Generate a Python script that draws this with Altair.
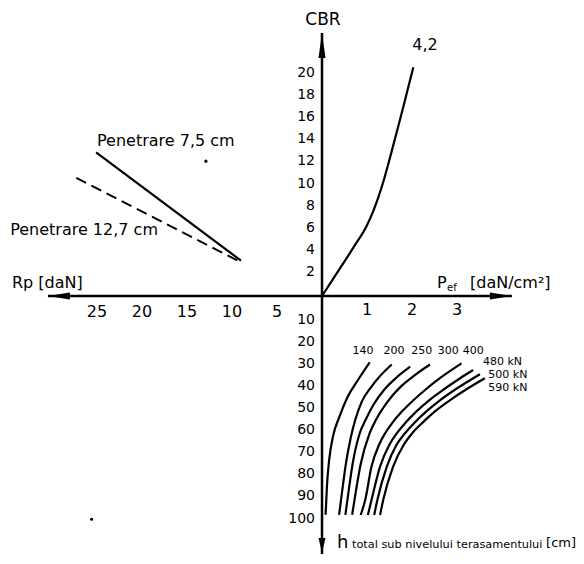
import altair as alt
import pandas as pd

# ---------------- values ----------------
rp_ticks = [25, 20, 15, 10, 5]                 # Rp [daN] (left)
pef_ticks = [1, 2, 3]                          # Pef [daN/cm2] (right)
cbr_ticks = [2, 4, 6, 8, 10, 12, 14, 16, 18, 20]   # CBR (up)
h_ticks = [10, 20, 30, 40, 50, 60, 70, 80, 90, 100]  # h [cm] (down)

# CBR curve labelled 4,2  (Pef -> CBR)
cbr_curve_pef = [0, 0.2, 0.4, 0.7, 1.0, 1.15, 1.33, 1.51, 1.73, 1.88, 2.03]
cbr_curve_cbr = [0, 1.25, 2.5, 4.4, 6.4, 7.8, 9.9, 12.5, 15.9, 18.3, 20.7]

# Penetration lines (Rp -> CBR)
pen75_rp = [25.1, 9.0]
pen75_cbr = [13.0, 3.2]
pen127_rp = [27.3, 8.9]
pen127_cbr = [10.7, 3.0]

# Load curves (Pef -> h)
load_labels = ["140", "200", "250", "300", "400", "480 kN", "500 kN", "590 kN"]
load_pef = [
    [1.06, 0.80, 0.56, 0.38, 0.25, 0.16, 0.11, 0.08],
    [1.55, 1.30, 1.10, 0.88, 0.74, 0.64, 0.53, 0.45, 0.38],
    [1.96, 1.65, 1.40, 1.15, 0.97, 0.84, 0.68, 0.58, 0.52],
    [2.40, 2.05, 1.75, 1.45, 1.20, 1.06, 0.86, 0.74, 0.67],
    [3.10, 2.62, 2.31, 2.03, 1.78, 1.57, 1.40, 1.27, 1.10, 0.96, 0.86],
    [3.36, 3.07, 2.71, 2.38, 2.10, 1.86, 1.66, 1.50, 1.29, 1.10, 1.02],
    [3.51, 2.97, 2.62, 2.32, 2.06, 1.84, 1.66, 1.44, 1.23, 1.16],
    [3.62, 3.21, 2.84, 2.51, 2.24, 2.00, 1.82, 1.58, 1.36, 1.29],
]
load_h = [
    [30, 38, 46, 55, 63, 74, 86, 99],
    [31, 36, 41, 48, 56, 64, 76, 88, 99],
    [32, 37, 42, 49, 56, 62, 76, 90, 99],
    [31, 36, 41, 48, 56, 62, 76, 90, 99],
    [30.5, 37.2, 42.2, 47.2, 52.2, 57.2, 62.2, 67.2, 77.2, 92.3, 99.1],
    [33.5, 37.2, 42.2, 47.2, 52.2, 57.2, 62.2, 67.2, 77.2, 92.3, 99.1],
    [35.4, 42.2, 47.2, 52.2, 57.2, 62.2, 67.2, 77.2, 92.3, 99.1],
    [37.2, 42.2, 47.2, 52.2, 57.2, 62.2, 67.2, 77.2, 92.3, 99.1],
]

# stray specks in the scan (Rp, CBR) and (Rp, h)
speck_rp_cbr = [(12.9, 12.2)]
speck_rp_h = [(25.6, 101)]

# ---------------- common nomogram frame ----------------
# horizontal unit u: Pef, or Rp/5 to the left; vertical unit v: CBR/2 up, h/10 down
PX_U, PX_V = 45.0, 22.1
W, H = 568, 546
U0 = (8 - 322) / PX_U
U1 = U0 + W / PX_U
V1 = (296 - 8) / PX_V
V0 = V1 - H / PX_V

rows = []
def add(series, us, vs, style):
    pts = sorted(zip(us, vs))
    for i, (a, b) in enumerate(pts):
        rows.append(dict(series=series, u=a, v=b, i=i, style=style))

add("cbr", cbr_curve_pef, [c / 2 for c in cbr_curve_cbr], "solid")
add("pen75", [-r / 5 for r in pen75_rp], [c / 2 for c in pen75_cbr], "solid")
add("pen127", [-r / 5 for r in pen127_rp], [c / 2 for c in pen127_cbr], "dash")
for lab, ps, hs in zip(load_labels, load_pef, load_h):
    add(lab, ps, [-h / 10 for h in hs], "solid")
lines = pd.DataFrame(rows)

xs = alt.Scale(domain=[U0, U1], nice=False, zero=False)
ys = alt.Scale(domain=[V0, V1], nice=False, zero=False)
X = lambda f: alt.X(f, type="quantitative", scale=xs, axis=None)
Y = lambda f: alt.Y(f, type="quantitative", scale=ys, axis=None)
FONT = "DejaVu Sans"

solid = alt.Chart(lines[lines["style"] == "solid"]).mark_line(
    color="black", strokeWidth=2.2, interpolate="monotone"
).encode(x=X("u"), y=Y("v"), detail="series:N", order="i:Q")

dashed = alt.Chart(lines[lines["style"] == "dash"]).mark_line(
    color="black", strokeWidth=2.0, strokeDash=[11, 6]
).encode(x=X("u"), y=Y("v"), detail="series:N", order="i:Q")

# axes
axes_df = pd.DataFrame([
    dict(u=-6.09, u2=4.22, v=0.0, v2=0.0),
    dict(u=0.0, u2=0.0, v=11.9, v2=V0),
])
axes = alt.Chart(axes_df).mark_rule(color="black", strokeWidth=2.5).encode(
    x=X("u"), x2="u2", y=Y("v"), y2="v2"
)

arrows_df = pd.DataFrame([
    dict(u=0.0, v=11.9, shape="M0,0L0.28,2L-0.28,2Z", size=625),
    dict(u=0.0, v=-11.63, shape="M0,0L0.47,-2L-0.47,-2Z", size=225),
    dict(u=-6.09, v=0.0, shape="M0,0L2,0.32L2,-0.32Z", size=484),
    dict(u=4.22, v=0.0, shape="M0,0L-2,0.32L-2,-0.32Z", size=484),
])
arrows = alt.Chart(arrows_df).mark_point(filled=True, color="black", opacity=1, strokeWidth=0).encode(
    x=X("u"), y=Y("v"),
    shape=alt.Shape("shape:N", scale=None),
    size=alt.Size("size:Q", scale=None),
)

specks_df = pd.DataFrame(
    [dict(u=-r / 5, v=c / 2) for r, c in speck_rp_cbr]
    + [dict(u=-r / 5, v=-h / 10) for r, h in speck_rp_h]
)
specks = alt.Chart(specks_df).mark_point(filled=True, color="black", size=10, opacity=1).encode(
    x=X("u"), y=Y("v")
)

# tick labels
rp_df = pd.DataFrame(dict(u=[-r / 5 for r in rp_ticks], v=0.0, t=[str(r) for r in rp_ticks]))
pef_df = pd.DataFrame(dict(u=[float(p) for p in pef_ticks], v=0.0, t=[str(p) for p in pef_ticks]))
cbr_df = pd.DataFrame(dict(u=0.0, v=[c / 2 for c in cbr_ticks], t=[str(c) for c in cbr_ticks]))
h_df = pd.DataFrame(dict(u=0.0, v=[-h / 10 for h in h_ticks], t=[str(h) for h in h_ticks]))

rp_txt = alt.Chart(rp_df).mark_text(font=FONT, fontSize=16, dy=16, baseline="middle", align="center").encode(
    x=X("u"), y=Y("v"), text="t:N")
pef_txt = alt.Chart(pef_df).mark_text(font=FONT, fontSize=16, dy=14, baseline="middle", align="center").encode(
    x=X("u"), y=Y("v"), text="t:N")
cbr_txt = alt.Chart(cbr_df).mark_text(font=FONT, fontSize=14, dx=-7, dy=-2, baseline="middle", align="right").encode(
    x=X("u"), y=Y("v"), text="t:N")
h_txt = alt.Chart(h_df).mark_text(font=FONT, fontSize=14, dx=-7, dy=1.5, baseline="middle", align="right").encode(
    x=X("u"), y=Y("v"), text="t:N")

# annotations (u, v in frame units)
ann_left = pd.DataFrame([
    dict(u=-5.0, v=7.01, t="Penetrare 7,5 cm", s=16),
    dict(u=-6.93, v=2.99, t="Penetrare 12,7 cm", s=16),
    dict(u=-6.89, v=0.59, t="Rp [daN]", s=16),
    dict(u=2.556, v=0.59, t="P", s=16),
    dict(u=2.778, v=0.36, t="ef", s=10),
    dict(u=3.289, v=0.59, t="[daN/cm²]", s=16),
    dict(u=0.333, v=-11.18, t="h", s=18),
    dict(u=0.667, v=-11.27, t="total sub nivelului terasamentului", s=11.3),
    dict(u=4.98, v=-11.18, t="[cm]", s=13),
    dict(u=3.578, v=-2.99, t=load_labels[5], s=11),
    dict(u=3.696, v=-3.57, t=load_labels[6], s=11),
    dict(u=3.696, v=-4.18, t=load_labels[7], s=11),
])
ann_center = pd.DataFrame([
    dict(u=0.022, v=12.49, t="CBR", s=17),
    dict(u=2.289, v=11.36, t="4,2", s=16),
    dict(u=0.911, v=-2.49, t=load_labels[0], s=11),
    dict(u=1.600, v=-2.49, t=load_labels[1], s=11),
    dict(u=2.216, v=-2.49, t=load_labels[2], s=11),
    dict(u=2.807, v=-2.49, t=load_labels[3], s=11),
    dict(u=3.362, v=-2.49, t=load_labels[4], s=11),
])
al = alt.Chart(ann_left).mark_text(font=FONT, align="left", baseline="middle").encode(
    x=X("u"), y=Y("v"), text="t:N", size=alt.Size("s:Q", scale=None))
ac = alt.Chart(ann_center).mark_text(font=FONT, align="center", baseline="middle").encode(
    x=X("u"), y=Y("v"), text="t:N", size=alt.Size("s:Q", scale=None))

chart = alt.layer(
    axes, solid, dashed, arrows, specks, rp_txt, pef_txt, cbr_txt, h_txt, al, ac
).properties(
    width=W, height=H, padding=0, autosize=alt.AutoSizeParams(type="none"),
    background="white",
).configure_view(stroke=None)

chart.save("out.html", embed_options={"renderer": "svg", "actions": False})
